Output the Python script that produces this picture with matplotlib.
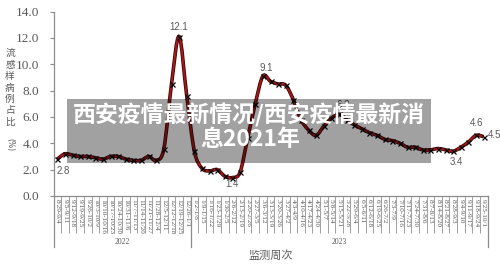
import numpy as np
import matplotlib
matplotlib.use('Agg')
import matplotlib.pyplot as plt
from matplotlib.path import Path
from matplotlib.patches import PathPatch, Rectangle
from matplotlib.lines import Line2D
import matplotlib.patheffects as pe
import matplotlib.transforms as mtransforms

# ---------------- data ----------------
weeks_2022 = ['8/29-9/4', '9/5-9/11', '9/12-9/18', '9/19-9/25', '9/26-10/2', '10/3-10/9',
              '10/10-10/16', '10/17-10/23', '10/24-10/30', '10/31-11/6', '11/7-11/13',
              '11/14-11/20', '11/21-11/27', '11/28-12/4', '12/5-12/11', '12/12-12/18',
              '12/19-12/25', '12/26-1/1']
weeks_2023 = ['1/2-1/8', '1/9-1/15', '1/16-1/22', '1/23-1/29', '1/30-2/5', '2/6-2/12',
              '2/13-2/19', '2/20-2/26', '2/27-3/5', '3/6-3/12', '3/13-3/19', '3/20-3/26',
              '3/27-4/2', '4/3-4/9', '4/10-4/16', '4/17-4/23', '4/24-4/30', '5/1-5/7',
              '5/8-5/14', '5/15-5/21', '5/22-5/28', '5/29-6/4', '6/5-6/11', '6/12-6/18',
              '6/19-6/25', '6/26-7/2', '7/3-7/9', '7/10-7/16', '7/17-7/23', '7/24-7/30',
              '7/31-8/6', '8/7-8/13', '8/14-8/20', '8/21-8/27', '8/28-9/3', '9/4-9/10',
              '9/11-9/17', '9/18-9/24', '9/25-10/1']
years = ['2022', '2023']
ili_share = [2.8, 3.2, 3.1, 3.0, 3.0, 2.9, 2.8, 3.0, 3.0, 2.8, 2.7, 2.7, 3.0, 2.7,
             3.6, 8.5, 12.1, 7.6, 3.4, 2.1, 1.9, 2.0, 1.5, 1.4, 1.8, 4.4, 7.0, 9.1,
             8.7, 8.5, 8.4, 7.3, 5.8, 5.0, 4.6, 5.3, 5.9, 6.2, 5.8, 5.4, 5.1, 4.8,
             4.6, 4.3, 4.2, 4.0, 3.7, 3.7, 3.5, 3.5, 3.6, 3.5, 3.4, 3.7, 4.1, 4.6, 4.5]
labelled_points = [0, 16, 23, 27, 37, 52, 55, 56]
y_ticks = [0, 2, 4, 6, 8, 10, 12, 14]
ylabel_chars = ['流', '感', '样', '病', '例', '占', '比']
xlabel = '监测周次'
overlay_lines = ['西安疫情最新情况/西安疫情最新消', '息2021年']

# ---------------- figure ----------------
W, H = 500, 264
fig = plt.figure(figsize=(W / 100, H / 100), dpi=100)
fig.patch.set_facecolor('white')
ax = fig.add_axes([53.5 / W, 68 / H, 434 / W, 184.5 / H])

weeks = weeks_2022 + weeks_2023
x = np.arange(len(weeks))
y = np.array(ili_share, dtype=float)

gray_txt = '#595959'
axis_col = '#8c8c8c'


def smooth_path(xs, ys):
    pts = np.column_stack([xs, ys]).astype(float)
    n = len(pts)
    verts = [pts[0]]
    codes = [Path.MOVETO]
    for i in range(n - 1):
        p0 = pts[i - 1] if i > 0 else pts[i]
        p1 = pts[i]
        p2 = pts[i + 1]
        p3 = pts[i + 2] if i + 2 < n else pts[i + 1]
        c1 = p1 + (p2 - p0) / 6.0
        c2 = p2 - (p3 - p1) / 6.0
        verts += [c1, c2, p2]
        codes += [Path.CURVE4] * 3
    return Path(verts, codes)


patch = PathPatch(smooth_path(x, y), fill=False, edgecolor='#a01818', lw=1.5, zorder=3,
                  path_effects=[pe.Stroke(linewidth=2.6, foreground='#3d0606'), pe.Normal()])
ax.add_patch(patch)
ax.plot(x, y, ls='none', marker='x', color='black', ms=3.6, mew=0.9, zorder=4)

ax.set_xlim(-0.5, len(weeks) - 0.5)
ax.set_ylim(0, 14)

# y axis
ax.set_yticks(y_ticks)
ax.set_yticklabels([f'{v:.1f}' for v in y_ticks], fontfamily='Liberation Serif',
                   fontsize=9.5, color=gray_txt)
ax.tick_params(axis='y', length=3, width=0.8, color=axis_col, pad=7.5)

# x axis
ax.set_xticks(x)
ax.set_xticklabels(weeks, rotation=270, fontfamily='Liberation Serif', fontsize=5.2,
                   color=gray_txt)
ax.tick_params(axis='x', which='major', length=0, pad=2)
ax.set_xticks(np.arange(0.5, len(weeks) - 1, 1.0), minor=True)
ax.tick_params(axis='x', which='minor', length=37 / 1.389, width=0.7, color='#a0a0a0')

for s in ['top', 'right']:
    ax.spines[s].set_visible(False)
for s in ['left', 'bottom']:
    ax.spines[s].set_color(axis_col)
    ax.spines[s].set_linewidth(0.9)

# year group separators & labels
trans = mtransforms.blended_transform_factory(ax.transData, ax.transAxes)
sep_depth = -51 / 184.5
for xb in [-0.5, len(weeks_2022) - 0.5, len(weeks) - 0.5]:
    ax.add_line(Line2D([xb, xb], [0, sep_depth], transform=trans, color=axis_col,
                       lw=0.9, clip_on=False))
bounds = [-0.5, len(weeks_2022) - 0.5, len(weeks) - 0.5]
for i, yr in enumerate(years):
    xc = (bounds[i] + bounds[i + 1]) / 2
    ax.text(xc, -46 / 184.5, yr, transform=trans, ha='center', va='center',
            fontfamily='Liberation Serif', fontsize=5.5, color=gray_txt)

# data labels (offsets in pixels)
offsets = {0: (-1, -12, 'left'), 16: (0, 9.5, 'center'), 23: (0, -6.5, 'center'),
           27: (3, 8, 'center'), 37: (4, 9, 'center'), 52: (3, -10.5, 'center'),
           55: (0, 12, 'center'), 56: (4, 1.5, 'left')}
for i in labelled_points:
    dx, dy, ha = offsets[i]
    ax.annotate(f'{y[i]:.1f}', (x[i], y[i]), xytext=(dx, dy), textcoords='offset pixels',
                ha=ha, va='center', fontsize=7, color=gray_txt,
                fontfamily='Liberation Sans', zorder=5)

# axis titles
for k, ch in enumerate(ylabel_chars):
    fig.text(10 / W, 1 - (53 + k * 11.5) / H, ch, ha='center', va='center',
             fontfamily='Noto Sans CJK SC', fontsize=7, color=gray_txt)
fig.text(10 / W, 1 - 145 / H, '(%)', ha='center', va='center', rotation=270,
         fontfamily='DejaVu Sans', fontsize=5.5, color=gray_txt)
fig.text(271 / W, 1 - 256 / H, xlabel, ha='center', va='center',
         fontfamily='Noto Sans CJK SC', fontsize=8, color=gray_txt)

# watermark overlay
fig.patches.append(Rectangle((66.7 / W, 1 - 162.7 / H), (431 - 66.7) / W, (162.7 - 99.3) / H,
                             transform=fig.transFigure, facecolor='black', alpha=0.37,
                             edgecolor='none', zorder=10))
fig.text(249 / W, 1 - 115 / H, overlay_lines[0], ha='center', va='center',
         fontfamily='Noto Sans CJK SC', fontweight='bold', fontsize=16.5, color='white',
         zorder=11)
fig.text(250 / W, 1 - 140 / H, overlay_lines[1], ha='center', va='center',
         fontfamily='Noto Sans CJK SC', fontweight='bold', fontsize=16.5, color='white',
         zorder=11)

fig.savefig('out.png', dpi=100)
